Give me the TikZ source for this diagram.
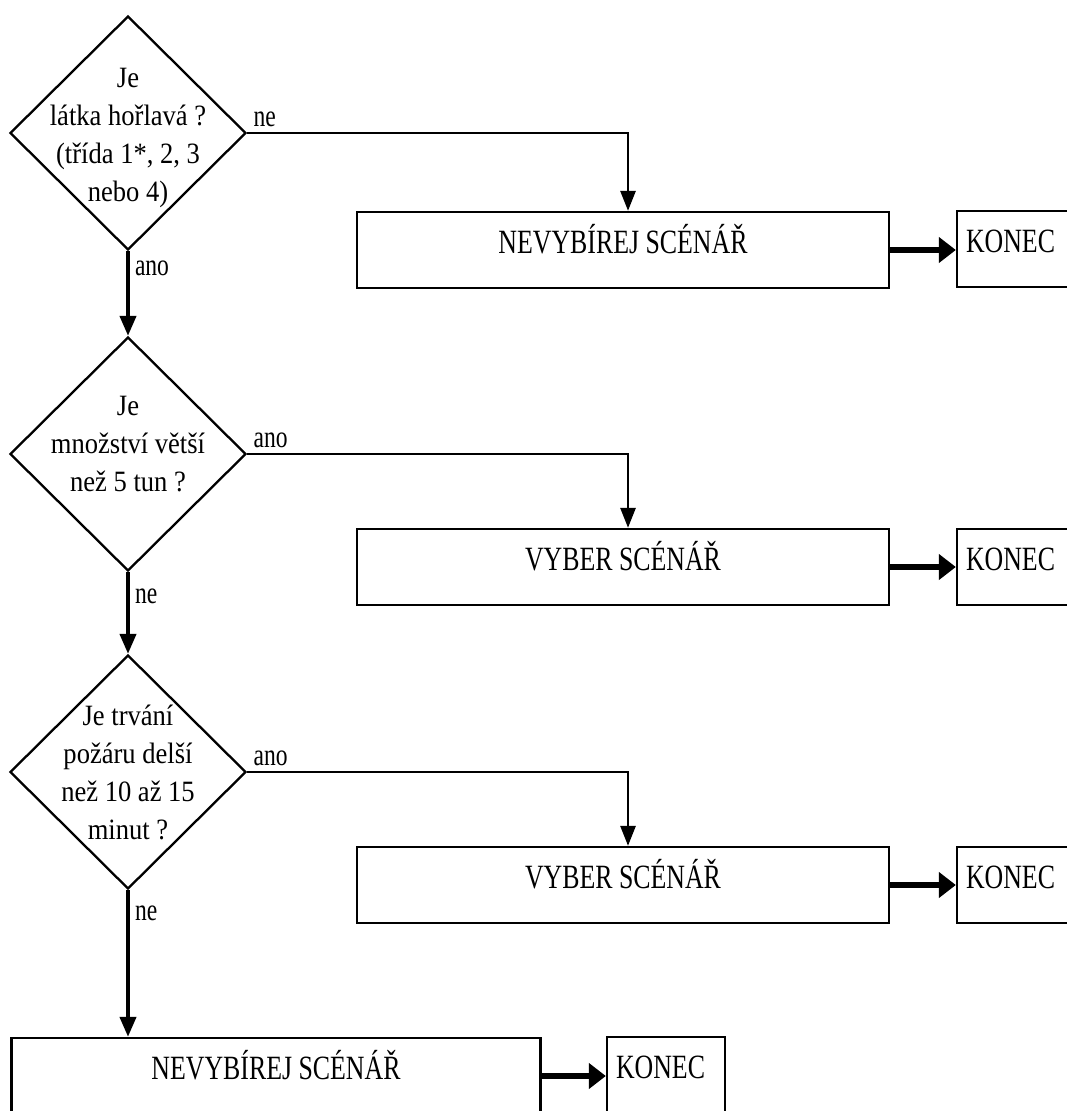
\documentclass[tikz,border=0pt]{standalone}
\usepackage{fontspec}
\setmainfont{Liberation Serif}[FakeStretch=0.9]
\newfontfamily\narrowfont{Liberation Serif}[FakeStretch=0.76]
\usetikzlibrary{arrows.meta,shapes.geometric}

\begin{document}
\begin{tikzpicture}[x=1pt,y=-1pt,
  decision/.style={diamond,draw,line width=2.3pt,minimum width=236pt,minimum height=234pt,inner sep=0pt},
  question/.style={align=center,font=\fontsize{29.5}{38}\selectfont},
  task/.style={draw,line width=2.3pt,minimum width=532pt,minimum height=76pt,inner sep=0pt,text height=30pt,text depth=24pt,font=\narrowfont\fontsize{34}{40}\selectfont},
  endbox/.style={draw,line width=2.3pt,minimum width=118pt,minimum height=76pt,inner xsep=9pt,inner ysep=0pt,text width=100pt,align=left,text height=30pt,text depth=24pt,font=\narrowfont\fontsize{34}{40}\selectfont},
  lbl/.style={font=\narrowfont\fontsize{31}{36}\selectfont,inner sep=5pt},
  down/.style={line width=4pt,-{Triangle[length=20pt,width=16pt]}},
  branch/.style={line width=2.8pt,-{Triangle[length=20pt,width=15pt]}},
  toend/.style={line width=5.5pt,-{Triangle[length=17pt,width=25pt]}}]
 \useasboundingbox (0,0) rectangle (1067,1111);
 \clip (0,0) rectangle (1067,1111);
 \node[decision] (q1) at (128,133) {};
 \node[question,yshift=-5pt] (t1) at (q1) {Je\\látka hořlavá ?\\(třída 1*, 2, 3\\nebo 4)};
 \node[decision] (q2) at (128,454) {};
 \node[question,yshift=10pt] (t2) at (q2) {Je\\množství větší\\než 5 tun ?};
 \node[decision] (q3) at (128,772) {};
 \node[question] (t3) at (q3) {Je trvání\\požáru delší\\než 10 až 15\\minut ?};
 \node[task] (r1) at (623,250) {NEVYBÍREJ SCÉNÁŘ};
 \node[task] (r2) at (623,567) {VYBER SCÉNÁŘ};
 \node[task] (r3) at (623,885) {VYBER SCÉNÁŘ};
 \node[task,minimum width=529pt] (r4) at (276,1076) {NEVYBÍREJ SCÉNÁŘ};
 \node[endbox] (k1) at (1016,249) {KONEC};
 \node[endbox] (k2) at (1016,567) {KONEC};
 \node[endbox] (k3) at (1016,885) {KONEC};
 \node[endbox] (k4) at (666,1075) {KONEC};
 \draw[branch] (q1.east) node[lbl,anchor=south west]{ne} -| ([xshift=5pt]r1.north);
 \draw[down] (q1.south) node[lbl,anchor=north west,yshift=-3pt]{ano} -- (q2.north);
 \draw[branch] (q2.east) node[lbl,anchor=south west]{ano} -| ([xshift=5pt]r2.north);
 \draw[down] (q2.south) node[lbl,anchor=north west,yshift=-10pt]{ne} -- (q3.north);
 \draw[branch] (q3.east) node[lbl,anchor=south west]{ano} -| ([xshift=5pt]r3.north);
 \draw[down] (q3.south) node[lbl,anchor=north west,yshift=-9pt]{ne} -- (q3.south |- r4.north);
 \foreach \i in {1,2,3,4}
  \draw[toend] (r\i.east) -- (r\i.east -| k\i.west);
\end{tikzpicture}
\end{document}
